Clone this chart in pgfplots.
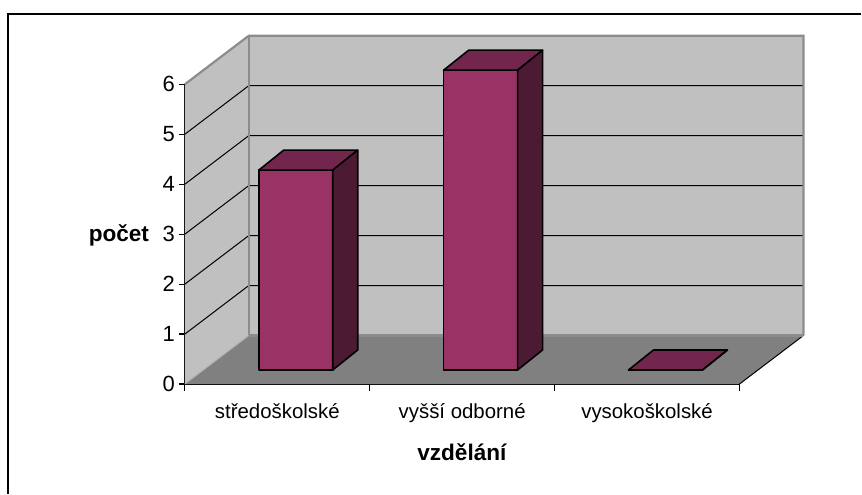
\documentclass[border=0pt]{standalone}
\usepackage{pgfplots}
\pgfplotsset{compat=1.18}
\usepackage{pgfplotstable}
\usepackage{fontspec}
\setmainfont{Liberation Sans}
\definecolor{plumfront}{HTML}{993366}
\definecolor{plumtop}{HTML}{73264D}
\definecolor{plumside}{HTML}{4D1A33}
\definecolor{wallgray}{HTML}{C0C0C0}
\definecolor{floorgray}{HTML}{808080}
\definecolor{edgegray}{HTML}{8C8C8C}

\pgfplotstableread{
i v
0 4
1 6
2 0
}\data

\begin{document}
\begin{tikzpicture}
\begin{axis}[
  width=277.5pt, height=150pt, scale only axis,
  xmin=0, xmax=3, ymin=0, ymax=6, enlargelimits=false,
  clip=false,
  axis x line*=bottom, axis y line*=left,
  axis line style={black, line width=0.6pt},
  /pgf/number format/assume math mode=true,
  ytick={0,1,2,3,4,5,6},
  tick align=outside,
  major tick length=3pt,
  minor tick length=3.5pt,
  xtick={0.5,1.5,2.5},
  xticklabels={středoškolské, vyšší odborné, vysokoškolské},
  minor xtick={0,1,2,3},
  major x tick style={draw=none},
  tick style={black, line width=0.6pt},
  xticklabel style={font=\fontsize{10.2}{12}\selectfont, yshift=-3pt},
  yticklabel style={font=\fontsize{11}{13}\selectfont, xshift=1.5pt},
  xlabel={\textbf{vzdělání}},
  ylabel={\textbf{počet}},
  every axis x label/.style={at={(axis cs:1.5,-1.354)}, anchor=center, font=\fontsize{11.3}{13}\selectfont},
  every axis y label/.style={at={(axis cs:-0.357,2.97)}, anchor=center, font=\fontsize{11.3}{13}\selectfont},
]
% bounding box = whole picture
\path (axis cs:-1,-2.194) rectangle (axis cs:3.6595,7.686);
% outer chart-area frame (top and left edges visible)
\draw[black, line width=0.6pt] (axis cs:3.6595,7.406) -- (axis cs:-0.957,7.406) -- (axis cs:-0.957,-2.194);
% floor
\fill[floorgray] (axis cs:0,0) -- (axis cs:3,0) -- (axis cs:3.346,0.972) -- (axis cs:0.346,0.972) -- cycle;
\draw[black, line width=0.5pt] (axis cs:3,0) -- (axis cs:3.346,0.972);
% left wall
\fill[wallgray] (axis cs:0,0) -- (axis cs:0,6) -- (axis cs:0.346,6.972) -- (axis cs:0.346,0.972) -- cycle;
% back wall
\fill[wallgray] (axis cs:0.346,0.972) rectangle (axis cs:3.346,6.972);
% gridlines
\draw[black, line width=0.5pt] (axis cs:0,1) -- (axis cs:0.346,1.972) -- (axis cs:3.346,1.972);
\draw[black, line width=0.5pt] (axis cs:0,2) -- (axis cs:0.346,2.972) -- (axis cs:3.346,2.972);
\draw[black, line width=0.5pt] (axis cs:0,3) -- (axis cs:0.346,3.972) -- (axis cs:3.346,3.972);
\draw[black, line width=0.5pt] (axis cs:0,4) -- (axis cs:0.346,4.972) -- (axis cs:3.346,4.972);
\draw[black, line width=0.5pt] (axis cs:0,5) -- (axis cs:0.346,5.972) -- (axis cs:3.346,5.972);
% wall edges
\draw[edgegray, line width=1.1pt, line join=miter] (axis cs:0,6) -- (axis cs:0.346,6.972) -- (axis cs:3.346,6.972) -- (axis cs:3.346,0.972);
\draw[edgegray, line width=1.1pt] (axis cs:0.346,6.972) -- (axis cs:0.346,0.972) -- (axis cs:3.346,0.972);
\draw[edgegray!70, line width=0.5pt] (axis cs:0,0) -- (axis cs:0.346,0.972);
% 3D bars from data
\addplot[
  scatter, only marks, mark=*, mark size=0pt,
  visualization depends on={\thisrow{v} \as \val},
  scatter/@pre marker code/.append code={%
    \filldraw[fill=plumfront, draw=black, line width=0.8pt, line join=round]
      (axis direction cs:0,0) rectangle (axis direction cs:0.4,\val);
    \filldraw[fill=plumtop, draw=black, line width=0.8pt, line join=round]
      (axis direction cs:0,\val) -- (axis direction cs:0.4,\val)
      -- ++(axis direction cs:0.135,0.4) -- ++(axis direction cs:-0.4,0) -- cycle;
    \filldraw[fill=plumside, draw=black, line width=0.8pt, line join=round]
      (axis direction cs:0.4,0) -- (axis direction cs:0.4,\val)
      -- ++(axis direction cs:0.135,0.4) -- (axis direction cs:0.535,0.4) -- cycle;
  },
] table[x expr=\thisrow{i}+0.4, y expr=0.282] {\data};
\end{axis}
\end{tikzpicture}
\end{document}
